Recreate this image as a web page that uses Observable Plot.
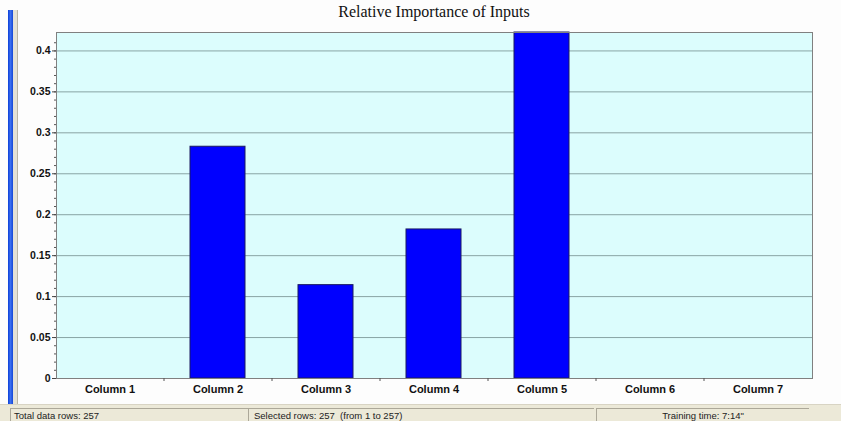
<!DOCTYPE html>
<html><head><meta charset="utf-8">
<script src="https://cdn.jsdelivr.net/npm/d3@7"></script>
<script src="https://cdn.jsdelivr.net/npm/@observablehq/plot@0.6"></script>
<style>
html,body{margin:0;padding:0;background:#fff;}
#wrap{position:relative;width:841px;height:421px;overflow:hidden;background:#fdfdfd;font-family:"Liberation Sans",Arial,sans-serif;}
.abs{position:absolute;}
#title{top:3px;left:56px;width:756px;text-align:center;font-family:"Liberation Serif","Times New Roman",serif;font-size:16px;color:#111;}
#status{top:404px;left:0;width:841px;height:17px;background:#ece9d8;border-top:1px solid #d8d4c4;}
.panel{position:absolute;top:3px;height:14px;border-top:1px solid #aca899;border-left:1px solid #aca899;font-size:9.5px;color:#222;line-height:14px;white-space:pre;}
</style></head>
<body>
<div id="wrap">
  <div class="abs" style="left:8px;top:10px;width:5px;height:411px;background:linear-gradient(90deg,#0b3fd8,#3a6ef0,#1546d6);"></div>
  <div class="abs" style="left:13px;top:10px;width:4px;height:394px;background:#e4e1d6;border-right:1px solid #b9b5a6;"></div>
  <div id="title" class="abs"></div>
  <div id="chart" class="abs" style="top:24px;left:0;"></div>
  <div id="status" class="abs">
    <div class="panel" id="p1" style="left:10px;width:235px;padding-left:3px;"></div>
    <div class="panel" id="p2" style="left:248px;width:340px;padding-left:5px;"></div>
    <div class="panel" id="p3" style="left:596px;width:212px;text-align:center;"></div>
  </div>
</div>
<script>
const titleText = "Relative Importance of Inputs";
const columns = ["Column 1","Column 2","Column 3","Column 4","Column 5","Column 6","Column 7"];
const importance = [0, 0.283, 0.114, 0.182, 0.4225, 0, 0];
const yTicks = [0,0.05,0.1,0.15,0.2,0.25,0.3,0.35,0.4];
const yMinorTicks = d3.range(0, 0.42, 0.01);
const statusTexts = ["Total data rows: 257", "Selected rows: 257  (from 1 to 257)", "Training time: 7:14\""];

document.getElementById("title").textContent = titleText;
document.getElementById("p1").textContent = statusTexts[0];
document.getElementById("p2").textContent = statusTexts[1];
document.getElementById("p3").textContent = statusTexts[2];

const data = columns.map((c,i)=>({col:c, v:importance[i]}));
const W = 841, mL = 56, mR = 29;
const halfStep = (W - mL - mR) / columns.length / 2;

const plot = Plot.plot({
  width: W, height: 381,
  marginLeft: mL, marginRight: mR, marginTop: 8, marginBottom: 27,
  style: {fontFamily: "'Liberation Sans', Arial, sans-serif", fontSize: "11px", fontWeight: "bold", color: "#111", background: "transparent"},
  x: {domain: columns, paddingInner: 0.49, paddingOuter: 0.245, label: null},
  y: {domain: [0, 0.4225], label: null},
  marks: [
    Plot.frame({fill: "#dcfdfd"}),
    Plot.gridY(yTicks, {stroke: "#7f9a9a", strokeOpacity: 0.9, strokeWidth: 1}),
    Plot.barY(data, {x: "col", y: "v", fill: "#0000ff", stroke: "#1a1a60", strokeWidth: 1}),
    Plot.frame({stroke: "#808080", strokeWidth: 1}),
    Plot.axisY(yMinorTicks, {tickSize: 2, text: null, stroke: "#555"}),
    Plot.axisY(yTicks, {tickSize: 4, tickPadding: 2, tickFormat: d => String(+d.toFixed(2)), stroke: "#444", fontSize: 10.5}),
    Plot.axisX({tickSize: 0, tickPadding: 7}),
    Plot.ruleX(columns.slice(1), {x: d => d, dx: -halfStep, y1: 0, y2: 0, insetBottom: -3, stroke: "#555"})
  ]
});
document.getElementById("chart").appendChild(plot);
</script>
</body></html>
